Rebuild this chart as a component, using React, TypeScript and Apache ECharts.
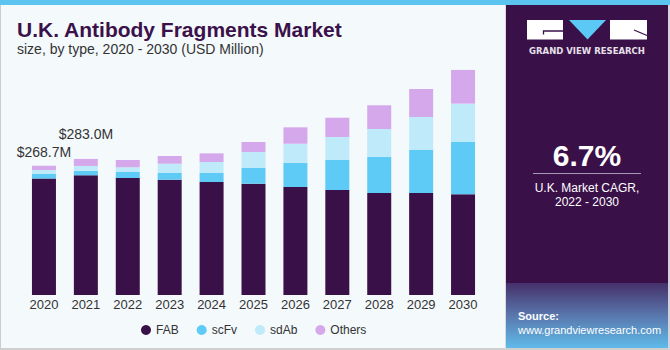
import React, { useEffect, useRef } from "react";
import * as echarts from "echarts";

const years = ["2020", "2021", "2022", "2023", "2024", "2025", "2026", "2027", "2028", "2029", "2030"];
const fab = [242.5, 249.0, 243.4, 239.8, 235.0, 231.5, 224.6, 218.4, 212.2, 212.2, 209.5];
const scfv = [9.0, 9.0, 13.1, 14.6, 19.4, 33.3, 50.5, 62.4, 75.5, 89.4, 108.8];
const sdab = [8.5, 10.4, 9.1, 18.7, 22.2, 32.6, 39.5, 47.8, 57.6, 68.6, 79.7];
const others = [8.7, 14.6, 15.2, 16.0, 18.0, 20.8, 34.1, 40.1, 49.3, 58.2, 70.1];
const labelledYears = [0, 1];
const labelDistances = [7, 18];

const FONT = "'Liberation Sans', Arial, Helvetica, sans-serif";
const PURPLE = "#3a1048";

export default function App() {
  const ref = useRef<HTMLDivElement>(null);
  useEffect(() => {
    if (!ref.current) return;
    const chart = echarts.init(ref.current, undefined, { renderer: "svg" });
    const totals = years.map((_, i) => fab[i] + scfv[i] + sdab[i] + others[i]);
    const othersData = others.map((v, i) => {
      const k = labelledYears.indexOf(i);
      if (k < 0) return v;
      return {
        value: v,
        label: {
          show: true,
          position: "top",
          distance: labelDistances[k],
          formatter: "$" + totals[i].toFixed(1) + "M",
          fontSize: 14,
          color: "#333",
          fontFamily: FONT,
        },
      };
    });
    const mk = (name: string, data: any[], color: string) => ({
      name,
      type: "bar",
      stack: "total",
      barWidth: 24,
      data,
      itemStyle: { color },
      emphasis: { disabled: true },
    });
    chart.setOption({
      animation: false,
      backgroundColor: "#f4f9fc",
      textStyle: { fontFamily: FONT },
      grid: { left: 23, right: 186, top: 54.6, bottom: 55, containLabel: false },
      xAxis: {
        type: "category",
        data: years,
        axisLine: { show: false },
        axisTick: { show: false },
        axisLabel: { fontSize: 13, color: "#333", margin: 3, fontFamily: FONT },
      },
      yAxis: { type: "value", min: 0, max: 500, show: false, splitLine: { show: false } },
      legend: {
        data: ["FAB", "scFv", "sdAb", "Others"],
        left: 136,
        top: 319,
        icon: "circle",
        itemWidth: 10,
        itemHeight: 10,
        itemGap: 18,
        textStyle: { fontSize: 12, color: "#333", fontFamily: FONT },
      },
      series: [
        mk("FAB", fab, PURPLE),
        mk("scFv", scfv, "#5ecbf7"),
        mk("sdAb", sdab, "#bfeaf9"),
        mk("Others", othersData, "#d5a8ec"),
      ],
      graphic: [
        { type: "rect", shape: { x: 0, y: 0, width: 1, height: 350 }, style: { fill: "#cccccc" } },
        { type: "rect", shape: { x: 0, y: 348, width: 670, height: 2 }, style: { fill: "#cfcfcf" } },
        { type: "rect", shape: { x: 505, y: 0, width: 1, height: 350 }, style: { fill: "#d8d8de" } },
        { type: "rect", shape: { x: 506, y: 0, width: 162, height: 348 }, style: { fill: PURPLE } },
        {
          type: "rect",
          shape: { x: 506, y: 283, width: 162, height: 65 },
          style: {
            fill: new echarts.graphic.LinearGradient(0, 0, 0, 1, [
              { offset: 0, color: "#45306a" },
              { offset: 0.5, color: "#5977ad" },
              { offset: 1, color: "#5fbbe9" },
            ]),
          },
        },
        { type: "rect", shape: { x: 668, y: 0, width: 2, height: 350 }, style: { fill: "#d6d3dc" } },
        { type: "rect", shape: { x: 0, y: 0, width: 670, height: 5 }, style: { fill: "#5bc5ef" } },
        {
          type: "text",
          x: 17,
          y: 29,
          style: { text: "U.K. Antibody Fragments Market", fill: "#3b1149", fontSize: 21, fontWeight: "bold", fontFamily: FONT, align: "left", verticalAlign: "middle" },
        },
        {
          type: "text",
          x: 17,
          y: 49,
          style: { text: "size, by type, 2020 - 2030 (USD Million)", fill: "#333", fontSize: 14, fontFamily: FONT, align: "left", verticalAlign: "middle" },
        },
        // logo
        { type: "rect", shape: { x: 527, y: 20, width: 36, height: 19.5 }, style: { fill: "#ffffff" } },
        { type: "polyline", shape: { points: [[563, 31], [543.5, 31], [543.5, 34.5]] }, style: { stroke: PURPLE, lineWidth: 1.3, fill: "none" } },
        { type: "polygon", shape: { points: [[569, 20], [606, 20], [587.5, 39.5]] }, style: { fill: "#5bc8f5" } },
        { type: "rect", shape: { x: 610, y: 20, width: 37, height: 19.5 }, style: { fill: "#ffffff" } },
        { type: "line", shape: { x1: 634, y1: 30, x2: 647, y2: 35.5 }, style: { stroke: PURPLE, lineWidth: 1.3 } },
        {
          type: "text",
          x: 587,
          y: 51,
          style: { text: "GRAND VIEW RESEARCH", fill: "#e6e1ea", fontSize: 8.5, fontWeight: "bold", fontFamily: "'DejaVu Sans', sans-serif", align: "center", verticalAlign: "middle" },
        },
        {
          type: "text",
          x: 587,
          y: 155,
          style: { text: "6.7%", fill: "#ffffff", fontSize: 30, fontWeight: "bold", fontFamily: FONT, align: "center", verticalAlign: "middle" },
        },
        { type: "line", shape: { x1: 533, y1: 173.5, x2: 641, y2: 173.5 }, style: { stroke: "#a898b8", lineWidth: 1 } },
        {
          type: "text",
          x: 587,
          y: 188,
          style: { text: "U.K. Market CAGR,", fill: "#ffffff", fontSize: 12, fontFamily: FONT, align: "center", verticalAlign: "middle" },
        },
        {
          type: "text",
          x: 587,
          y: 202,
          style: { text: "2022 - 2030", fill: "#ffffff", fontSize: 12, fontFamily: FONT, align: "center", verticalAlign: "middle" },
        },
        {
          type: "text",
          x: 518,
          y: 316,
          style: { text: "Source:", fill: "#ffffff", fontSize: 11, fontWeight: "bold", fontFamily: FONT, align: "left", verticalAlign: "middle" },
        },
        {
          type: "text",
          x: 518,
          y: 330,
          style: { text: "www.grandviewresearch.com", fill: "#ffffff", fontSize: 11, fontFamily: FONT, align: "left", verticalAlign: "middle" },
        },
      ],
    });
    return () => chart.dispose();
  }, []);
  return <div ref={ref} style={{ position: "fixed", left: 0, top: 0, width: 670, height: 350 }} />;
}
